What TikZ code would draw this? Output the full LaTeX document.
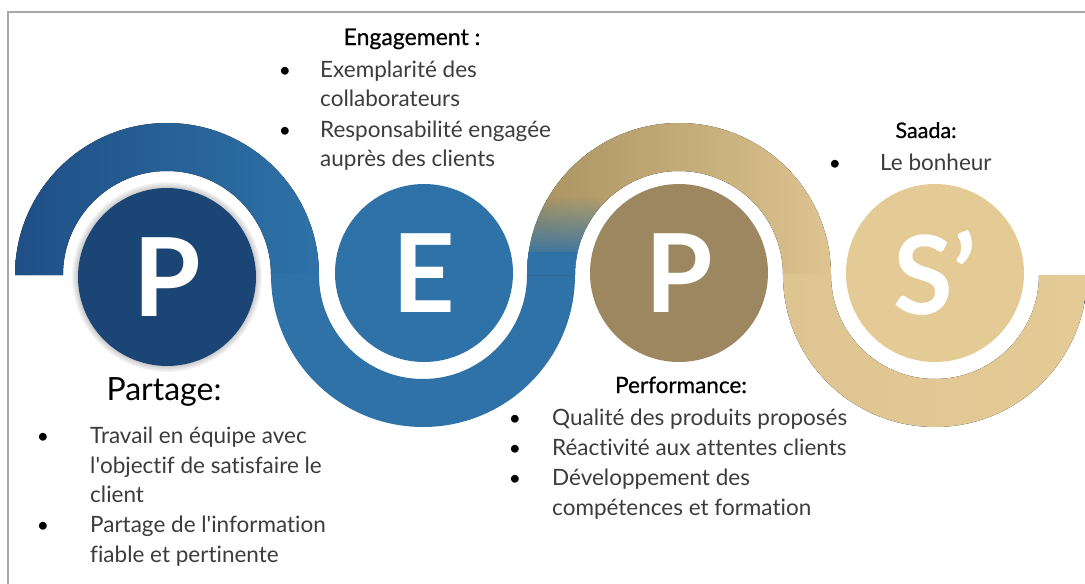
\documentclass[tikz,border=0pt]{standalone}
\usepackage{fontspec}
\setmainfont{Lato}[Ligatures={NoCommon}]
\newfontfamily\headfont{Lato}[FakeBold=0.6, Ligatures={NoCommon}]
\usepackage{tikz}
\usetikzlibrary{fadings}

\definecolor{navyC}{HTML}{1B4574}
\definecolor{blueDark}{HTML}{1E4F86}
\definecolor{blueC}{HTML}{2E72A7}
\definecolor{khakiC}{HTML}{9C8760}
\definecolor{tanDark}{HTML}{A8925F}
\definecolor{tanMid}{HTML}{CBB483}
\definecolor{tanRight}{HTML}{DDC491}
\definecolor{tanLight}{HTML}{E4CB96}
\definecolor{txtgray}{HTML}{3C3C3C}
\definecolor{framegray}{HTML}{A8A8A8}

\begin{document}
\begin{tikzpicture}[x=1pt,y=1pt,
    letterdisc/.style={circle, minimum size=178pt, inner sep=0pt, text=white,
        font=\bfseries\fontsize{109}{109}\selectfont},
    headtext/.style={anchor=base, inner sep=0pt, text=black},
    bodytext/.style={anchor=base west, inner sep=0pt, text=txtgray,
        font=\fontsize{22.5}{26}\selectfont},
    bulletmark/.style={anchor=base, inner sep=0pt, text=black,
        font=\fontsize{21}{25}\selectfont}]
    \useasboundingbox (0,0) rectangle (1085,-584);

    % frame
    \draw[framegray, line width=1.2pt] (8,-584) -- (8,-12) -- (1085,-12);

    % ribbon
    \fill[left color=blueDark, right color=blueC] (15,-275) arc (180:0:152)
        -- (271,-275) arc (0:180:104) -- cycle;
    \fill[blueC] (271,-275) arc (180:360:152)
        -- (527,-275) arc (360:180:104) -- cycle;
    \fill[blueC] (271,-273.5) rectangle (319,-276.5);
    \fill[left color=tanDark, middle color=tanMid, right color=tanRight]
        (527,-275) arc (180:0:152) -- (783,-275) arc (0:180:104) -- cycle;
    \begin{scope}
        \clip (527,-275) arc (180:0:152) -- (783,-275) arc (0:180:104) -- cycle;
        \fill[blueC] (520,-277) rectangle (600,-252);
        \fill[blueC, path fading=north] (520,-262) rectangle (600,-196);
    \end{scope}
    \fill[left color=tanRight, right color=tanLight] (783,-275) arc (180:360:152)
        -- (1039,-275) arc (360:180:104) -- cycle;
    \fill[tanRight] (783,-273.5) rectangle (831,-276.5);

    % discs
    \coordinate (cP) at (167,-277);
    \foreach \d in {1,...,6}
        \fill[black, opacity=0.035] (cP) circle ({89+\d});
    \node[letterdisc, fill=navyC] (discP) at (cP) {P};
    \node[letterdisc, fill=blueC] (discE) at (424,-273) {E};
    \node[letterdisc, fill=khakiC] (discPerf) at (679,-273) {P};
    \node[letterdisc, fill=tanLight] (discS) at (935,-273) {S’};

    % Engagement
    \node[headtext, font=\headfont\fontsize{23}{27}\selectfont] (headEng) at (412,-45) {Engagement :};
    \node[bulletmark] (bEng1) at (285,-77) {•};
    \node[bodytext] (eng1) at (320,-77) {Exemplarité des};
    \node[bodytext] (eng2) at (320,-106) {collaborateurs};
    \node[bulletmark] (bEng2) at (285,-137) {•};
    \node[bodytext] (eng3) at (320,-137) {Responsabilité engagée};
    \node[bodytext] (eng4) at (320,-166) {auprès des clients};

    % Partage
    \node[headtext, font=\fontsize{32}{36}\selectfont] (headPar) at (164,-400) {Partage:};
    \node[bulletmark] (bPar1) at (43,-443) {•};
    \node[bodytext] (par1) at (90,-443) {Travail en équipe avec};
    \node[bodytext] (par2) at (90,-473) {l\textquotesingle objectif de satisfaire le};
    \node[bodytext] (par3) at (90,-502) {client};
    \node[bulletmark] (bPar2) at (43,-532) {•};
    \node[bodytext] (par4) at (90,-532) {Partage de l\textquotesingle information};
    \node[bodytext] (par5) at (90,-562) {fiable et pertinente};

    % Performance
    \node[headtext, font=\headfont\fontsize{22.5}{26}\selectfont] (headPerf) at (681,-393) {Performance:};
    \node[bulletmark] (bPerf1) at (515,-425) {•};
    \node[bodytext] (perf1) at (552,-425) {Qualité des produits proposés};
    \node[bulletmark] (bPerf2) at (515,-455) {•};
    \node[bodytext] (perf2) at (552,-455) {Réactivité aux attentes clients};
    \node[bulletmark] (bPerf3) at (515,-485) {•};
    \node[bodytext] (perf3) at (552,-485) {Développement des};
    \node[bodytext] (perf4) at (552,-515) {compétences et formation};

    % Saada
    \node[headtext, font=\headfont\fontsize{21.5}{25}\selectfont] (headSaa) at (926,-138) {Saada:};
    \node[bulletmark] (bSaa1) at (835,-170) {•};
    \node[bodytext] (saa1) at (880,-170) {Le bonheur};
\end{tikzpicture}
\end{document}
